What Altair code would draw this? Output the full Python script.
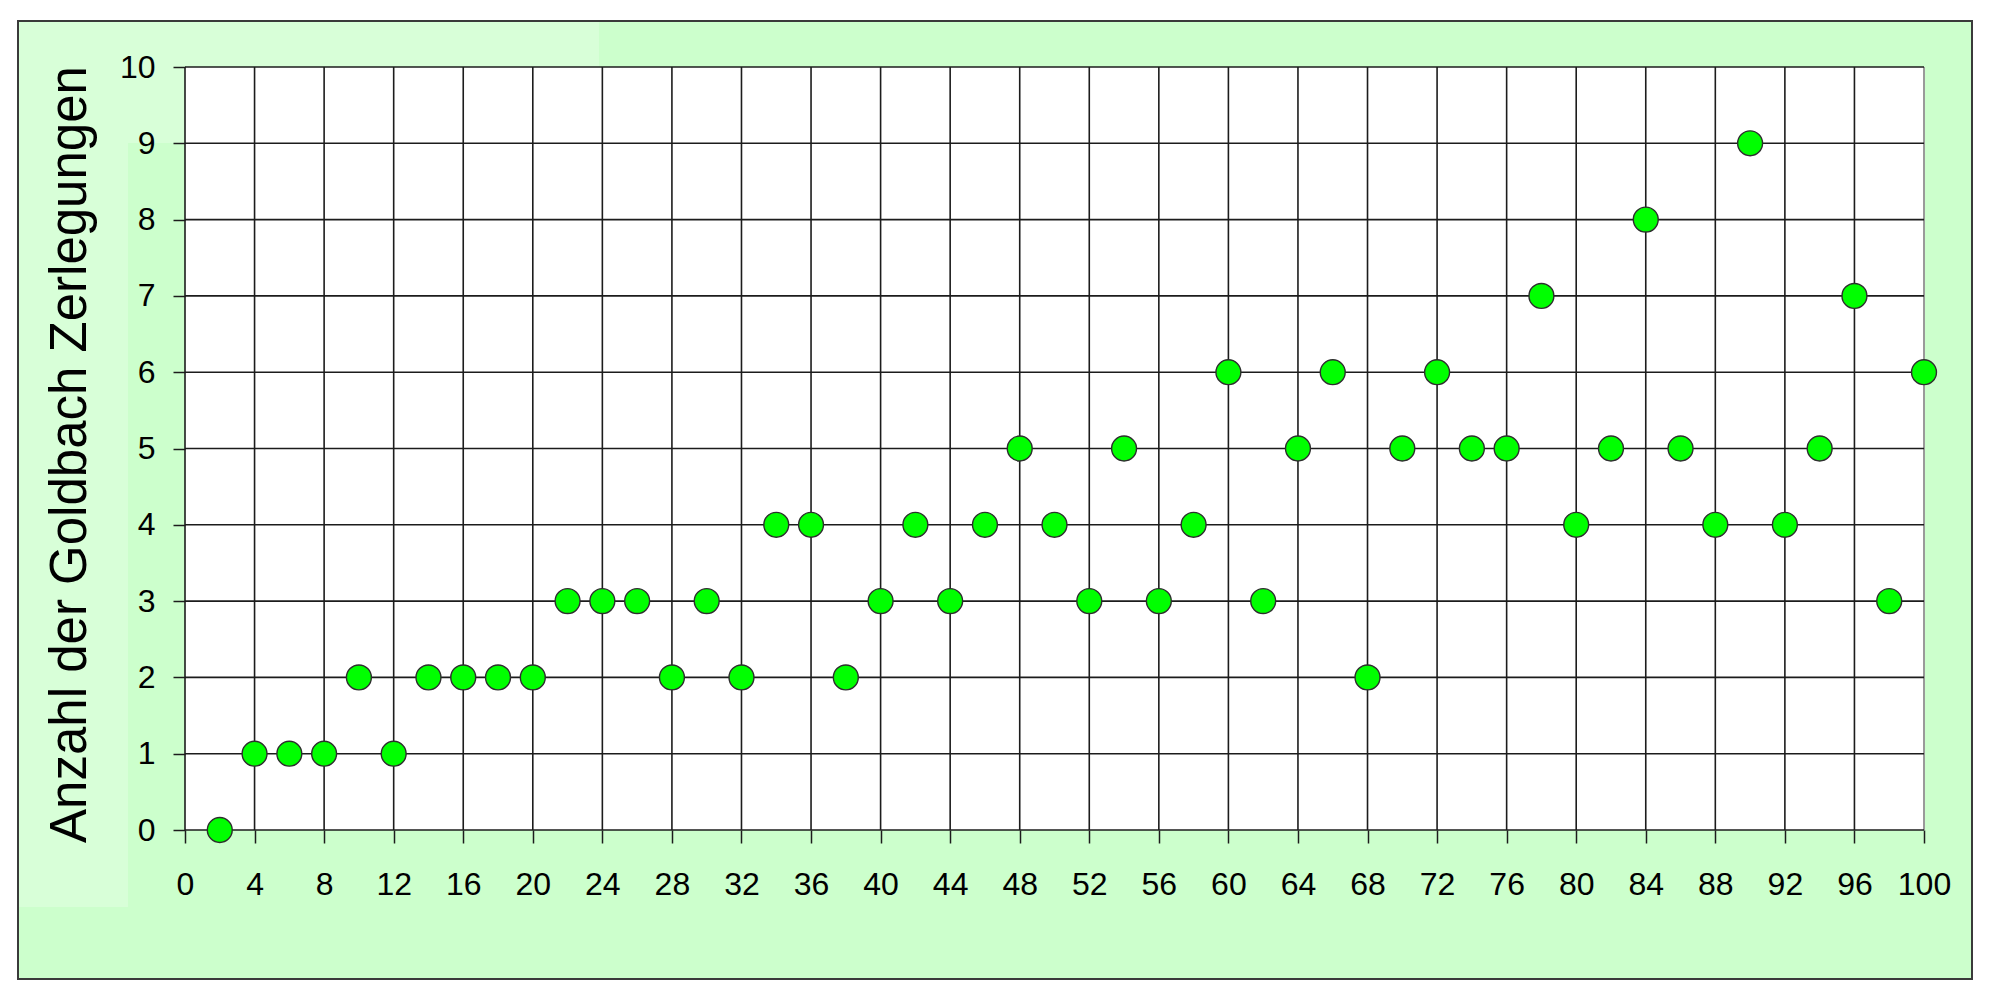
import altair as alt
import pandas as pd

# ---- data ----
even_numbers = [2, 4, 6, 8, 10, 12, 14, 16, 18, 20,
                22, 24, 26, 28, 30, 32, 34, 36, 38, 40,
                42, 44, 46, 48, 50, 52, 54, 56, 58, 60,
                62, 64, 66, 68, 70, 72, 74, 76, 78, 80,
                82, 84, 86, 88, 90, 92, 94, 96, 98, 100]
partitions = [0, 1, 1, 1, 2, 1, 2, 2, 2, 2,
              3, 3, 3, 2, 3, 2, 4, 4, 2, 3,
              4, 3, 4, 5, 4, 3, 5, 3, 4, 6,
              3, 5, 6, 2, 5, 6, 5, 5, 7, 4,
              5, 8, 5, 4, 9, 4, 5, 7, 3, 6]
x_ticks = [0, 4, 8, 12, 16, 20, 24, 28, 32, 36, 40, 44, 48,
           52, 56, 60, 64, 68, 72, 76, 80, 84, 88, 92, 96, 100]
y_ticks = [0, 1, 2, 3, 4, 5, 6, 7, 8, 9, 10]
y_title = "Anzahl der Goldbach Zerlegungen"

W, H = 1739, 763
FONT = "Liberation Sans"
LINE = "#1c1c1c"

points_df = pd.DataFrame({"n": even_numbers, "k": partitions})
xgrid_df = pd.DataFrame({"x": x_ticks[:-1]})
xedge_df = pd.DataFrame({"x": x_ticks[-1:]})
ygrid_df = pd.DataFrame({"y": y_ticks})
plot_df = pd.DataFrame({"x0": [x_ticks[0]], "x1": [x_ticks[-1]],
                        "y0": [y_ticks[0]], "y1": [y_ticks[-1]]})
one = pd.DataFrame({"d": [0]})

xscale = alt.Scale(domain=[0, 100], nice=False, zero=False)
yscale = alt.Scale(domain=[0, 10], nice=False, zero=False)

xaxis = alt.Axis(values=x_ticks, title=None, grid=False, domain=False,
                 format="d",
                 tickSize=13, tickColor=LINE, tickWidth=1.5,
                 labelFont=FONT, labelFontSize=32, labelColor="#000000",
                 labelPadding=26, labelFlush=False, labelOverlap=False,
                 zindex=1)
yaxis = alt.Axis(values=y_ticks, title=y_title, grid=False, domain=False,
                 format="d",
                 tickSize=12, tickColor=LINE, tickWidth=1.5,
                 labelFont=FONT, labelFontSize=32, labelColor="#000000",
                 labelPadding=18, labelFlush=False,
                 titleFont=FONT, titleFontSize=51, titleFontWeight="normal",
                 titleColor="#000000", titleAngle=270, titleX=-100, titleY=387,
                 titleAlign="center", titleBaseline="alphabetic", zindex=1)

# outer green panel
panel = alt.Chart(one).mark_rect(fill="#CCFFCC", strokeWidth=0).encode(
    x=alt.value(-167), x2=alt.value(1787), y=alt.value(-46), y2=alt.value(912))
# slightly lighter patches seen in the reference
patch1 = alt.Chart(one).mark_rect(fill="#D8FFD8", strokeWidth=0).encode(
    x=alt.value(-166), x2=alt.value(414), y=alt.value(-45), y2=alt.value(0))
patch2 = alt.Chart(one).mark_rect(fill="#D8FFD8", strokeWidth=0).encode(
    x=alt.value(-166), x2=alt.value(-57), y=alt.value(0), y2=alt.value(840))
patch3 = alt.Chart(one).mark_rect(fill="#D8FFD8", strokeWidth=0).encode(
    x=alt.value(-57), x2=alt.value(0), y=alt.value(0), y2=alt.value(76))
border = alt.Chart(one).mark_rect(fill="#CCFFCC", fillOpacity=0,
                                  stroke="#3a3a3a", strokeWidth=2).encode(
    x=alt.value(-167), x2=alt.value(1787), y=alt.value(-46), y2=alt.value(912))

plot_bg = alt.Chart(plot_df).mark_rect(fill="white", strokeWidth=0).encode(
    x=alt.X("x0:Q", scale=xscale, axis=xaxis),
    x2="x1:Q",
    y=alt.Y("y0:Q", scale=yscale, axis=yaxis),
    y2="y1:Q")

vgrid = alt.Chart(xgrid_df).mark_rule(color=LINE, strokeWidth=1.6).encode(
    x=alt.X("x:Q", scale=xscale))
vedge = alt.Chart(xedge_df).mark_rule(color="#9a9a9a", strokeWidth=2).encode(
    x=alt.X("x:Q", scale=xscale))
hgrid = alt.Chart(ygrid_df).mark_rule(color=LINE, strokeWidth=1.6).encode(
    y=alt.Y("y:Q", scale=yscale))

pts = alt.Chart(points_df).mark_point(
    shape="circle", filled=True, fill="#00FF00", fillOpacity=1,
    stroke="#2e2e2e", strokeWidth=1.4, opacity=1, size=620).encode(
    x=alt.X("n:Q", scale=xscale),
    y=alt.Y("k:Q", scale=yscale))

chart = alt.layer(panel, patch1, patch2, patch3, border, plot_bg,
                  vgrid, vedge, hgrid, pts).properties(
    width=W, height=H,
    autosize=alt.AutoSizeParams(type="none"),
    padding={"left": 177, "top": 59, "right": 60, "bottom": 152},
    background="white",
).configure_view(stroke=None)

chart.save("out.html", embed_options={"renderer": "svg", "actions": False})
